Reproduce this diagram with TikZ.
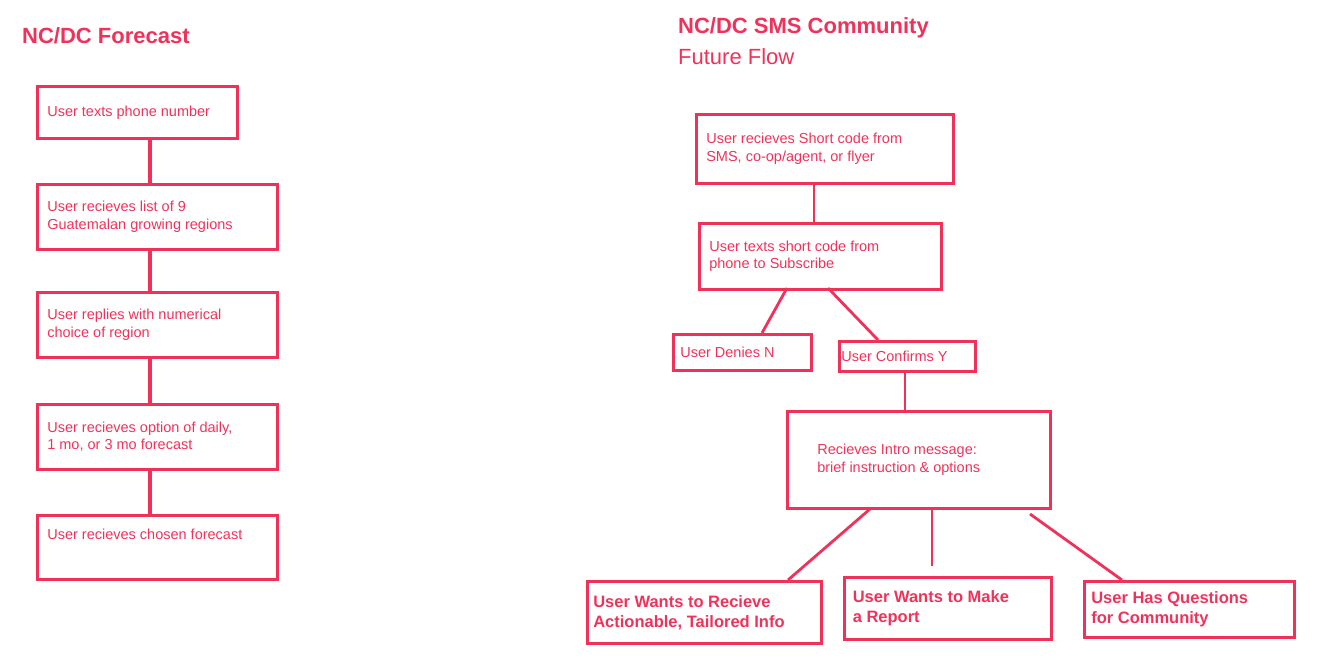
\documentclass[tikz,border=0pt]{standalone}
\usepackage{fontspec}
\setmainfont{Liberation Sans}
\usetikzlibrary{positioning}
\definecolor{flowred}{HTML}{F0325A}
\tikzset{
  box/.style={draw=flowred, line width=2.6pt, anchor=north west, inner sep=0pt,
    text=flowred, font=\fontsize{14.5}{17.5}\selectfont},
  link/.style={draw=flowred, line width=2.8pt},
  title/.style={text=flowred, anchor=west, inner sep=0pt, font=\fontsize{22}{26}\selectfont\bfseries},
  bold/.style={font=\fontsize{16.5}{20}\selectfont\bfseries}
}
\begin{document}
\begin{tikzpicture}[x=1pt,y=-1pt]
  \useasboundingbox (0,0) rectangle (1326,667);
  % Left flow
  \node[title] (tl) at (22,36) {NC/DC Forecast};
  \node[box, minimum width=200, minimum height=52] (f1) at (36,85)
    {\parbox[c][52pt][c]{180pt}{User texts phone number}};
  \node[box, minimum width=240, minimum height=65] (f2) at (36,183)
    {\parbox[c][65pt][c]{220pt}{User recieves list of 9\\Guatemalan growing regions}};
  \node[box, minimum width=240, minimum height=65] (f3) at (36,291)
    {\parbox[c][65pt][c]{220pt}{User replies with numerical\\choice of region}};
  \node[box, minimum width=240, minimum height=65] (f4) at (36,403)
    {\parbox[c][65pt][c]{220pt}{User recieves option of daily,\\1 mo, or 3 mo forecast}};
  \node[box, minimum width=240, minimum height=64] (f5) at (36,514)
    {\parbox[t][64pt][t]{220pt}{\vspace{14pt}User recieves chosen forecast}};
  \foreach \a/\b in {f1/f2,f2/f3,f3/f4,f4/f5}
    \draw[link, line width=4.5pt] (\a.south -| 150,0) -- (\b.north -| 150,0);

  % Right flow
  \node[title] (tr) at (678,28) {NC/DC SMS Community};
  \node[text=flowred, anchor=west, inner sep=0pt, font=\fontsize{22}{26}\selectfont] (tr2) at (678,57) {Future Flow};
  \node[box, minimum width=257, minimum height=69] (a) at (695,113)
    {\parbox[c][69pt][c]{237pt}{User recieves Short code from\\SMS, co-op/agent, or flyer}};
  \node[box, minimum width=242, minimum height=66] (b) at (698,222)
    {\parbox[c][66pt][c]{222pt}{User texts short code from\\phone to Subscribe}};
  \node[box, minimum width=138, minimum height=36] (deny) at (672,333)
    {\parbox[c][36pt][c]{124pt}{User Denies N}};
  \node[box, minimum width=136, minimum height=30] (conf) at (838,340)
    {\parbox[c][30pt][c]{132pt}{User Confirms Y}};
  \node[box, minimum width=263, minimum height=97] (intro) at (786,410)
    {\parbox[c][97pt][c]{243pt}{\hspace*{20pt}Recieves Intro message:\\\hspace*{20pt}brief instruction \& options}};
  \node[box, bold, minimum width=234, minimum height=62] (wl) at (586,580)
    {\parbox[c][62pt][c]{222pt}{User Wants to Recieve\\Actionable, Tailored Info}};
  \node[box, bold, minimum width=207, minimum height=62] (wm) at (843,576)
    {\parbox[c][62pt][c]{190pt}{User Wants to Make\\a Report}};
  \node[box, bold, minimum width=210, minimum height=56] (wr) at (1083,580)
    {\parbox[c][56pt][c]{196pt}{User Has Questions\\for Community}};

  \coordinate (aS) at (814,182);
  \draw[link] (a.south -| aS) -- (b.north -| aS);
  \draw[link] (787,288) -- (deny.north -| 762,0);
  \draw[link] (828,288) -- (conf.north -| 878,0);
  \draw[link] (conf.south -| 905,0) -- (intro.north -| 905,0);
  \draw[link] (870,509) -- (wl.north -| 788,0);
  \draw[link] (intro.south -| 932,0) -- (932,566);
  \draw[link] (1030,514) -- (wr.north -| 1122,0);
\end{tikzpicture}
\end{document}
